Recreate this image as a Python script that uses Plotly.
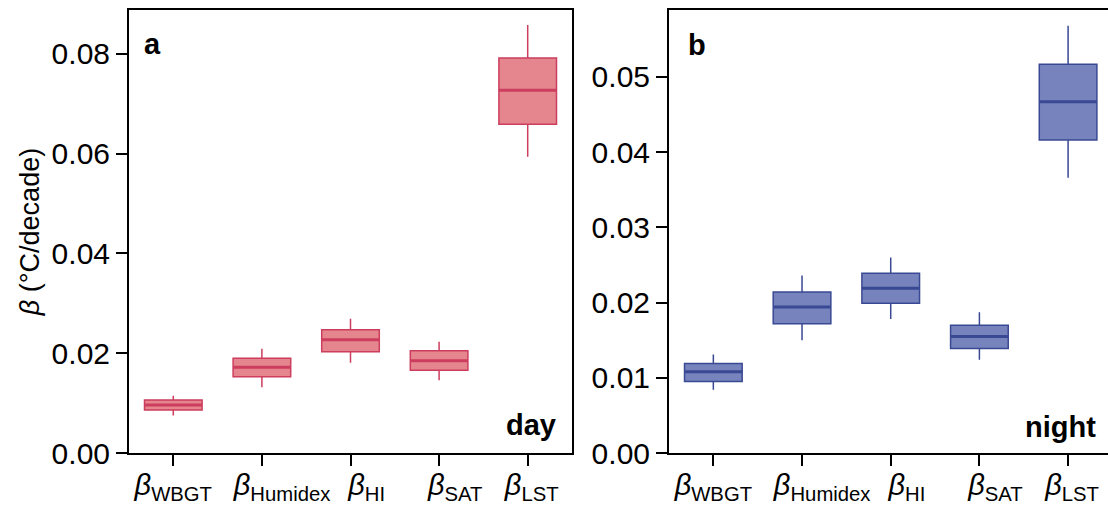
import plotly.graph_objects as go
from plotly.subplots import make_subplots

categories = ["WBGT", "Humidex", "HI", "SAT", "LST"]
label_pad = [0, 5, 4, 4, 1]  # leading spaces, as in the reference label placement
tick_labels = ["&nbsp;" * p + f"<i>β</i><sub>{c}</sub>" for p, c in zip(label_pad, categories)]

# Panel a (day)
day_min = [0.0075, 0.0132, 0.0181, 0.0146, 0.0594]
day_q1 = [0.0086, 0.0153, 0.0203, 0.0166, 0.0659]
day_median = [0.0096, 0.0172, 0.0227, 0.0185, 0.0727]
day_q3 = [0.0106, 0.0190, 0.0247, 0.0205, 0.0792]
day_max = [0.0115, 0.0209, 0.0269, 0.0223, 0.0858]

# Panel b (night)
night_min = [0.0084, 0.0150, 0.0178, 0.0124, 0.0366]
night_q1 = [0.0095, 0.0172, 0.0199, 0.0139, 0.0416]
night_median = [0.0108, 0.0194, 0.0219, 0.0155, 0.0467]
night_q3 = [0.0119, 0.0214, 0.0239, 0.0170, 0.0517]
night_max = [0.0131, 0.0236, 0.0260, 0.0187, 0.0568]

FONT = "Arial, Liberation Sans, sans-serif"
day_fill, day_line = "#E5868F", "#CC3D5E"
night_fill, night_line = "#7783BD", "#3A4993"

fig = make_subplots(rows=1, cols=2)

def add_panel(col, lo, q1, med, q3, hi, fill, line):
    fig.add_trace(go.Box(
        x=categories, lowerfence=lo, q1=q1, median=med, q3=q3, upperfence=hi,
        fillcolor=fill, line=dict(color=line, width=1.5), whiskerwidth=0,
        width=0.65, boxpoints=False, showlegend=False, hoverinfo="skip"),
        row=1, col=col)
    # thicker median line
    fig.add_trace(go.Box(
        x=categories, lowerfence=med, q1=med, median=med, q3=med, upperfence=med,
        fillcolor="rgba(0,0,0,0)", line=dict(color=line, width=3), whiskerwidth=0,
        width=0.65, boxpoints=False, showlegend=False, hoverinfo="skip"),
        row=1, col=col)

add_panel(1, day_min, day_q1, day_median, day_q3, day_max, day_fill, day_line)
add_panel(2, night_min, night_q1, night_median, night_q3, night_max, night_fill, night_line)

W, H = 1108, 509
xa = dict(type="category", categoryorder="array", categoryarray=categories,
          tickvals=categories, ticktext=tick_labels, tickangle=0, automargin=False,
          showline=True, linecolor="black", linewidth=2, mirror=True,
          ticks="outside", ticklen=11, tickwidth=2, tickcolor="black",
          showgrid=False, zeroline=False, ticklabelstandoff=-6,
          tickfont=dict(family=FONT, size=29, color="black"))
ya = dict(showline=True, linecolor="black", linewidth=2, mirror=True, automargin=False,
          ticks="outside", ticklen=11, tickwidth=2, tickcolor="black",
          showgrid=False, zeroline=False,
          tickfont=dict(family=FONT, size=30, color="black"))

fig.update_xaxes(**xa)
fig.update_yaxes(**ya)
fig.update_xaxes(domain=[129 / W, 572 / W], range=[-0.5, 4.5], row=1, col=1)
fig.update_xaxes(domain=[669 / W, 1.0], range=[-0.5, 4.45], row=1, col=2)
fig.update_yaxes(range=[0, 0.0888], tickvals=[0, 0.02, 0.04, 0.06, 0.08],
                 tickformat=".2f",
                 title=dict(text="<i>β</i> (°C/decade)", standoff=4,
                            font=dict(family=FONT, size=27, color="black")),
                 row=1, col=1)
fig.update_yaxes(range=[0, 0.0589], tickvals=[0, 0.01, 0.02, 0.03, 0.04, 0.05],
                 tickformat=".2f", mirror=False, row=1, col=2)

ann_font = dict(family=FONT, size=29, color="black")
fig.add_annotation(text="<b>a</b>", xref="x domain", yref="y domain", x=0.03, y=0.924,
                   xanchor="left", yanchor="middle", showarrow=False, font=ann_font)
fig.add_annotation(text="<b>b</b>", xref="x2 domain", yref="y2 domain", x=0.038, y=0.922,
                   xanchor="left", yanchor="middle", showarrow=False, font=ann_font)
fig.add_annotation(text="<b>day</b>", xref="x domain", yref="y domain", x=0.968, y=0.063,
                   xanchor="right", yanchor="middle", showarrow=False, font=ann_font)
fig.add_annotation(text="<b>night</b>", xref="x2 domain", yref="y2 domain", x=0.977, y=0.058,
                   xanchor="right", yanchor="middle", showarrow=False, font=ann_font)

fig.update_layout(width=W, height=H, margin=dict(l=0, r=0, t=10, b=56),
                  plot_bgcolor="white", paper_bgcolor="white",
                  boxmode="overlay", font=dict(family=FONT, color="black"))

fig.write_html("out.html")
